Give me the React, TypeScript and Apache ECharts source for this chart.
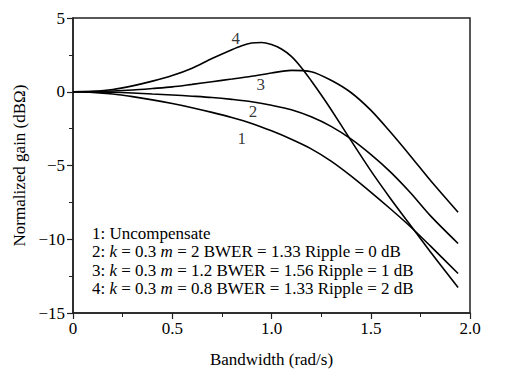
import React, { useEffect, useRef } from "react";
import * as echarts from "echarts";

const xs = [0, 0.1, 0.2, 0.3, 0.4, 0.5, 0.6, 0.7, 0.8, 0.9, 1.0, 1.1, 1.2, 1.3, 1.4, 1.5, 1.6, 1.7, 1.8, 1.94];
const curve1 = [0, -0.04, -0.15, -0.33, -0.55, -0.8, -1.08, -1.4, -1.75, -2.15, -2.65, -3.22, -3.87, -4.7, -5.7, -6.8, -7.95, -9.15, -10.45, -12.32];
const curve2 = [0, -0.01, -0.03, -0.08, -0.15, -0.22, -0.3, -0.39, -0.52, -0.68, -0.92, -1.22, -1.7, -2.35, -3.2, -4.25, -5.45, -6.85, -8.4, -10.29];
const curve3 = [0, 0.01, 0.05, 0.12, 0.22, 0.33, 0.5, 0.68, 0.86, 1.05, 1.27, 1.45, 1.36, 0.78, -0.05, -1.25, -2.75, -4.35, -6.0, -8.17];

const xs4 = [0, 0.1, 0.2, 0.3, 0.4, 0.5, 0.6, 0.7, 0.8, 0.85, 0.9, 0.95, 1.0, 1.05, 1.1, 1.15, 1.2, 1.25, 1.3, 1.4, 1.5, 1.6, 1.7, 1.8, 1.94];
const curve4 = [0, 0.03, 0.15, 0.4, 0.72, 1.1, 1.6, 2.25, 2.85, 3.12, 3.3, 3.34, 3.2, 2.9, 2.4, 1.65, 0.75, -0.2, -1.2, -3.3, -5.35, -7.25, -9.05, -10.85, -13.27];

const curveNames = ["1", "2", "3", "4"];
const labelX = [0.85, 0.907, 0.946, 0.82];
const labelY = [-3.14, -1.31, 0.46, 3.58];

const xTicks = [0, 0.5, 1.0, 1.5, 2.0];
const yTicks = [5, 0, -5, -10, -15];

const legendLines = [
  "1: Uncompensate",
  "2: {i|k} = 0.3 {i|m} = 2 BWER = 1.33 Ripple = 0 dB",
  "3: {i|k} = 0.3 {i|m} = 1.2 BWER = 1.56 Ripple = 1 dB",
  "4: {i|k} = 0.3 {i|m} = 0.8 BWER = 1.33 Ripple = 2 dB",
];

const FONT = "'Liberation Serif', 'Times New Roman', serif";
const FS = 17;

export default function App() {
  const ref = useRef<HTMLDivElement>(null);
  useEffect(() => {
    if (!ref.current) return;
    const chart = echarts.init(ref.current, undefined, { renderer: "svg" });
    const all = [
      { x: xs, y: curve1 },
      { x: xs, y: curve2 },
      { x: xs, y: curve3 },
      { x: xs4, y: curve4 },
    ];
    const lineSeries = all.map((c, i) => ({
      type: "line",
      name: curveNames[i],
      data: c.x.map((x, j) => [x, c.y[j]]),
      showSymbol: false,
      smooth: 0.3,
      lineStyle: { color: "#000", width: 1.6 },
      itemStyle: { color: "#000" },
      silent: true,
    }));
    chart.setOption({
      animation: false,
      backgroundColor: "#fff",
      grid: {
        left: 73,
        right: 40,
        top: 18,
        bottom: 67,
        show: true,
        borderColor: "#222",
        borderWidth: 1.5,
      },
      xAxis: {
        type: "value",
        min: 0,
        max: 2,
        interval: 0.5,
        name: "Bandwidth (rad/s)",
        nameLocation: "middle",
        nameGap: 38,
        nameTextStyle: { fontFamily: FONT, fontSize: FS, color: "#000" },
        axisLine: { show: true, onZero: false, lineStyle: { color: "#222", width: 1.5 } },
        axisTick: { show: true, inside: false, length: 6, lineStyle: { color: "#222", width: 1.2 } },
        minorTick: { show: true, splitNumber: 2, length: 4, lineStyle: { color: "#222", width: 1 } },
        splitLine: { show: false },
        axisLabel: {
          fontFamily: FONT,
          fontSize: FS,
          color: "#000",
          margin: 7,
          formatter: (v: number) => (v === 0 ? "0" : xTicks.includes(v) ? v.toFixed(1) : ""),
        },
      },
      yAxis: {
        type: "value",
        min: -15,
        max: 5,
        interval: 5,
        name: "Normalized gain (dBΩ)",
        nameLocation: "middle",
        nameGap: 45,
        nameTextStyle: { fontFamily: FONT, fontSize: FS, color: "#000" },
        axisLine: { show: true, onZero: false, lineStyle: { color: "#222", width: 1.5 } },
        axisTick: { show: true, inside: false, length: 6, lineStyle: { color: "#222", width: 1.2 } },
        minorTick: { show: true, splitNumber: 2, length: 4, lineStyle: { color: "#222", width: 1 } },
        splitLine: { show: false },
        axisLabel: {
          fontFamily: FONT,
          fontSize: FS,
          color: "#000",
          margin: 8,
          formatter: (v: number) => (yTicks.includes(v) ? (v < 0 ? "\u2212" + Math.abs(v) : String(v)) : ""),
        },
      },
      series: [
        ...lineSeries,
        {
          type: "scatter",
          symbolSize: 0,
          silent: true,
          itemStyle: { color: "#000" },
          data: curveNames.map((n, i) => ({ value: [labelX[i], labelY[i]], name: n })),
          label: {
            show: true,
            position: "inside",
            formatter: "{b}",
            fontFamily: FONT,
            fontSize: FS,
            color: "#000",
            textBorderWidth: 0,
          },
        },
      ],
      graphic: [
        {
          type: "text",
          left: 92,
          top: 224,
          style: {
            text: legendLines.join("\n"),
            fontFamily: FONT,
            fontSize: FS,
            lineHeight: 18.5,
            fill: "#000",
            rich: {
              i: { fontFamily: FONT, fontSize: FS, fontStyle: "italic", lineHeight: 18.5, fill: "#000" },
            },
          },
        },
      ],
    });
    return () => chart.dispose();
  }, []);
  return <div ref={ref} style={{ position: "absolute", left: 0, top: 0, width: 510, height: 380 }} />;
}
